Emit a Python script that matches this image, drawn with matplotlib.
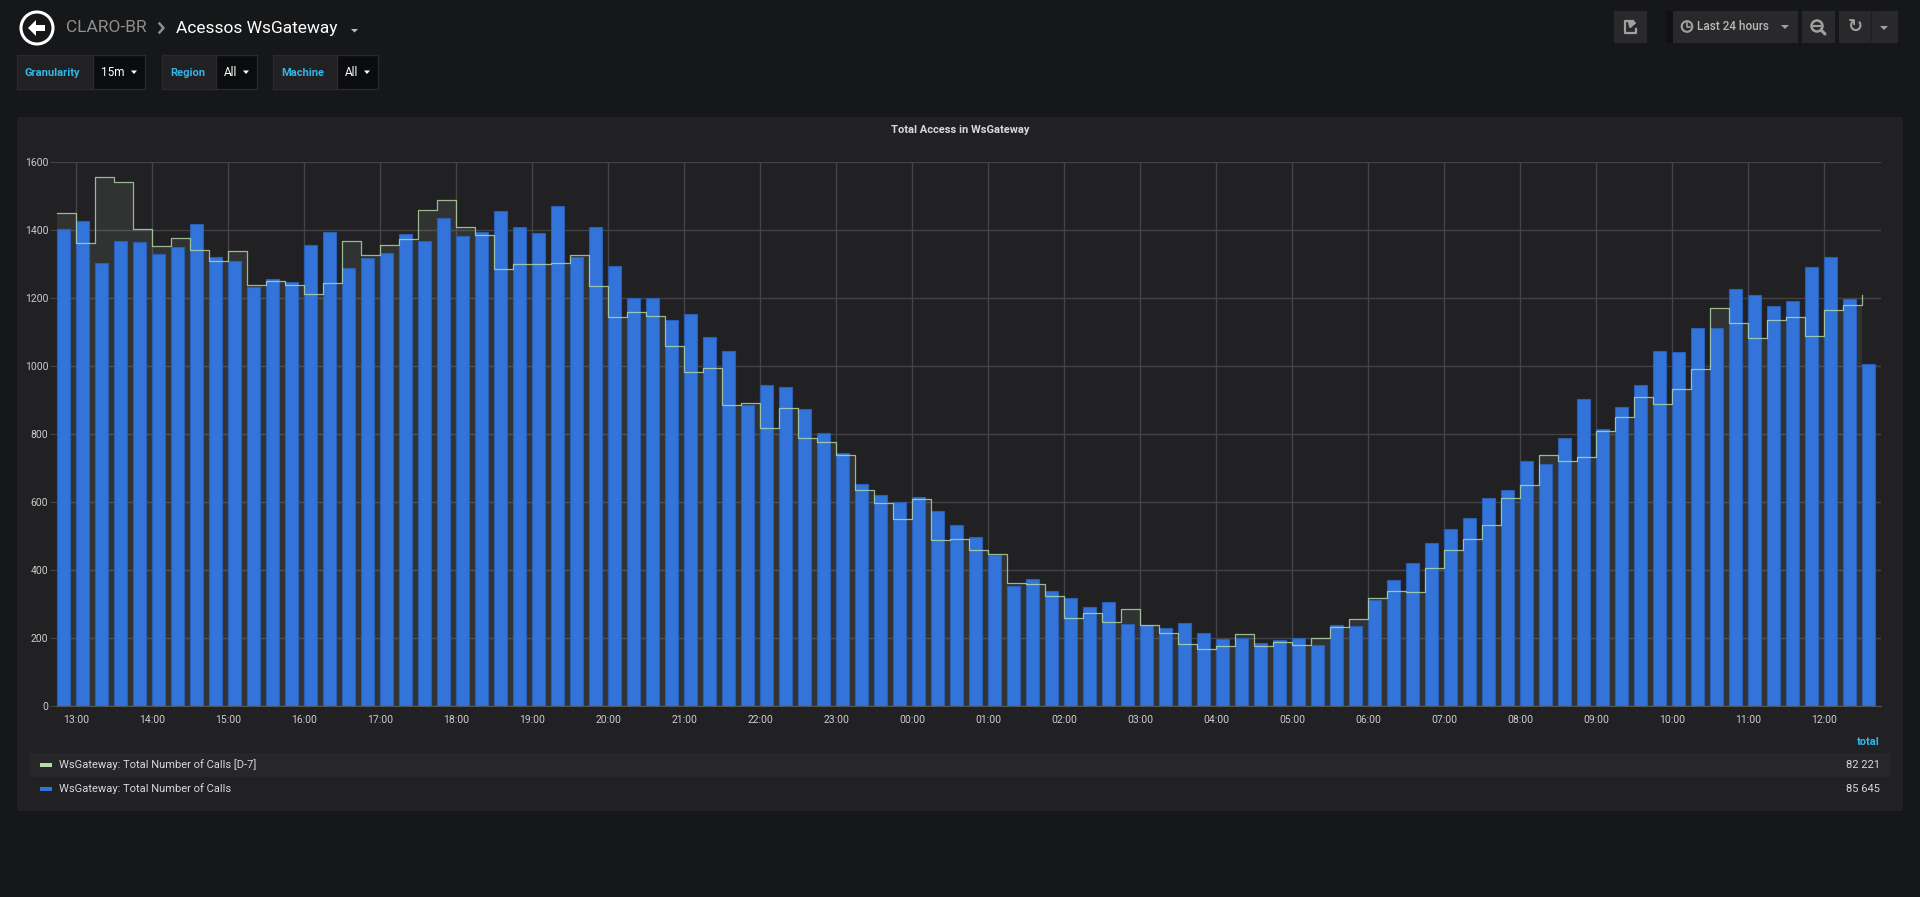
import matplotlib
matplotlib.use('Agg')
import matplotlib.pyplot as plt
from matplotlib.patches import Rectangle, Circle, Polygon
import numpy as np

plt.rcParams['font.family'] = ['Roboto', 'DejaVu Sans']

# 15 minute buckets, 12:45 -> 12:30 next day
calls = [1402, 1425, 1302, 1369, 1366, 1328, 1350, 1417, 1321, 1308,
         1232, 1255, 1247, 1355, 1394, 1288, 1318, 1332, 1388, 1367,
         1434, 1383, 1393, 1457, 1408, 1390, 1470, 1321, 1408, 1293,
         1199, 1199, 1135, 1152, 1085, 1043, 886, 944, 939, 874,
         802, 744, 654, 622, 599, 615, 574, 532, 496, 443,
         352, 375, 339, 319, 290, 305, 241, 239, 228, 243,
         214, 196, 199, 186, 195, 199, 179, 237, 235, 311,
         372, 421, 479, 522, 552, 613, 635, 721, 711, 787,
         903, 815, 880, 944, 1044, 1041, 1111, 1111, 1227, 1209,
         1176, 1190, 1290, 1320, 1196, 1006]

calls_d7 = [1451, 1363, 1556, 1542, 1403, 1354, 1377, 1342, 1310, 1338,
            1238, 1251, 1239, 1213, 1244, 1369, 1326, 1356, 1373, 1460,
            1488, 1410, 1384, 1286, 1301, 1301, 1302, 1326, 1234, 1145,
            1160, 1148, 1060, 982, 993, 884, 891, 817, 875, 789,
            775, 737, 636, 596, 549, 609, 489, 492, 459, 446,
            362, 360, 324, 259, 273, 246, 286, 239, 215, 182,
            169, 177, 212, 176, 189, 180, 201, 233, 256, 318,
            338, 335, 407, 460, 492, 533, 613, 650, 737, 721,
            733, 809, 849, 910, 889, 932, 991, 1171, 1127, 1083,
            1136, 1143, 1089, 1165, 1178, 1209]

hour_labels = ['13:00', '14:00', '15:00', '16:00', '17:00', '18:00', '19:00', '20:00',
               '21:00', '22:00', '23:00', '00:00', '01:00', '02:00', '03:00', '04:00',
               '05:00', '06:00', '07:00', '08:00', '09:00', '10:00', '11:00', '12:00']

series_names = ['WsGateway: Total Number of Calls [D-7]', 'WsGateway: Total Number of Calls']
series_totals = ['82 221', '85 645']
variables = [('Granularity', '15m'), ('Region', 'All'), ('Machine', 'All')]

BG = '#161719'
PANEL = '#212124'
BLUE = '#3274D9'
GREEN = '#B7DBAB'
TXT = '#d8d9da'
GRID = '#434346'

W, H = 1920, 897
fig = plt.figure(figsize=(W / 100, H / 100), dpi=100, facecolor=BG)

# overlay in pixel coordinates for the dashboard chrome
ov = fig.add_axes([0, 0, 1, 1], zorder=0)
ov.set_xlim(0, W)
ov.set_ylim(H, 0)
ov.axis('off')

# header
ov.add_patch(Circle((37, 28), 16, fill=False, ec='white', lw=2.2))
ov.add_patch(Polygon([(28, 28), (36, 20), (36, 25), (45, 25), (45, 31), (36, 31), (36, 36)],
                     closed=True, fc='white', ec='none'))
ov.text(66, 28, 'CLARO-BR', color='#8e8e8e', fontsize=12.5, va='center', ha='left')
ov.plot([159.5, 163.5, 159.5], [23.5, 28, 32.5], color='#8e8e8e', lw=1.8)
ov.text(176, 28, 'Acessos WsGateway', color='white', fontsize=12.5, va='center', ha='left')
ov.add_patch(Polygon([(351, 29), (358, 29), (354.5, 32.5)], fc='#bbbbbb', ec='none'))

# template variables
var_boxes = [(16.5, 93, 145), (162, 216, 257), (273, 337, 378)]
for (lab, val), (x0, x1, x2) in zip(variables, var_boxes):
    ov.add_patch(Rectangle((x0, 55), x1 - x0, 34, fc='#212124', ec='#2a2a2d', lw=1))
    ov.add_patch(Rectangle((x1, 55), x2 - x1, 34, fc='#0b0c0e', ec='#2a2a2d', lw=1))
    ov.text(x0 + 8, 72.5, lab, color='#33b5e5', fontsize=8, va='center', ha='left', fontweight='bold')
    ov.text(x1 + 8, 72.5, val, color='white', fontsize=8.5, va='center', ha='left')
    ov.add_patch(Polygon([(x2 - 14, 70.5), (x2 - 8, 70.5), (x2 - 11, 74)], fc='white', ec='none'))

# top right buttons
BTN = '#29292b'
ICON = '#a0a0a0'
ov.add_patch(Rectangle((1614, 11), 33, 32, fc=BTN, ec='none'))
ov.plot([1633, 1625, 1625, 1636, 1636], [21, 21, 33, 33, 29], color=ICON, lw=1.6)
ov.annotate('', xy=(1640, 22), xytext=(1629, 29),
            arrowprops=dict(arrowstyle='-|>', color=ICON, lw=1.8, mutation_scale=9,
                            connectionstyle='arc3,rad=-0.3'))
ov.add_patch(Rectangle((1666, 11), 7, 32, fc='#111113', ec='none'))
ov.add_patch(Rectangle((1673, 11), 125, 32, fc=BTN, ec='none'))
ov.add_patch(Circle((1687, 26.5), 5.3, fill=False, ec=ICON, lw=1.5))
ov.plot([1687, 1687, 1690], [23, 27, 27], color=ICON, lw=1.2)
ov.text(1697, 27, 'Last 24 hours', color='#b8b8b8', fontsize=8.5, va='center', ha='left',
        fontweight='medium')
ov.add_patch(Polygon([(1781, 25), (1789, 25), (1785, 29)], fc=ICON, ec='none'))
ov.add_patch(Rectangle((1802, 11), 33, 32, fc=BTN, ec='none'))
ov.add_patch(Circle((1817, 26), 5.5, fill=False, ec=ICON, lw=1.8))
ov.plot([1814, 1820], [26, 26], color=ICON, lw=1.5)
ov.plot([1821, 1825], [30, 34], color=ICON, lw=2.2, solid_capstyle='round')
ov.add_patch(Rectangle((1839, 11), 59, 32, fc=BTN, ec='none'))
ov.plot([1871, 1871], [11, 43], color='#202022', lw=1)
ov.text(1855, 27, '\u21bb', color=ICON, fontsize=13, va='center', ha='center',
        family='DejaVu Sans', fontweight='bold')
ov.add_patch(Polygon([(1880, 26), (1888, 26), (1884, 30)], fc=ICON, ec='none'))

# panel
ov.add_patch(Rectangle((17, 117), 1886, 694, fc=PANEL, ec='none'))
ov.text(960, 130, 'Total Access in WsGateway', color=TXT, fontsize=8, fontweight='bold',
        ha='center', va='center')

# legend table
ov.text(1880, 742, 'total', color='#33b5e5', fontsize=8, fontweight='bold', ha='right', va='center')
ov.add_patch(Rectangle((30, 753), 1860, 24, fc='#27272a', ec='none'))
for i, (name, tot, col) in enumerate(zip(series_names, series_totals, [GREEN, BLUE])):
    yy = 765 + 24 * i
    ov.add_patch(Rectangle((40, yy - 1.5), 12, 4, fc=col, ec='none'))
    ov.text(59, yy, name, color=TXT, fontsize=8, ha='left', va='center')
    ov.text(1880, yy, tot, color=TXT, fontsize=8, ha='right', va='center')

# graph
ax = fig.add_axes([56 / W, (H - 706) / H, (1880.7 - 56) / W, (706 - 162) / H], zorder=1)
ax.patch.set_alpha(0)
x = np.arange(len(calls))
ax.fill_between(x, calls_d7, step='post', color=GREEN, alpha=0.1, lw=0, zorder=1)
ax.bar(x, calls, width=0.67, align='edge', color=BLUE, edgecolor='#2b5fb4', lw=0.8, zorder=2)
ax.step(x, calls_d7, where='post', color=GREEN, lw=0.9, alpha=0.8, zorder=3)

ax.set_xlim(-0.07, 95.97)
ax.set_ylim(0, 1600)
ax.set_yticks(np.arange(0, 1601, 200))
ax.set_xticks(np.arange(1, 96, 4))
ax.set_xticklabels(hour_labels)
ax.set_axisbelow(True)
ax.grid(True, color=GRID, lw=1)
for s in ['top', 'right', 'left']:
    ax.spines[s].set_visible(False)
ax.spines['bottom'].set_color('#555558')
ax.tick_params(axis='x', length=0, pad=6.5, labelsize=7.5, labelcolor='#cccccc')
ax.tick_params(axis='y', length=4, color=GRID, pad=1.5, labelsize=7.5, labelcolor='#cccccc')

fig.savefig('out.png', dpi=100, facecolor=BG)
